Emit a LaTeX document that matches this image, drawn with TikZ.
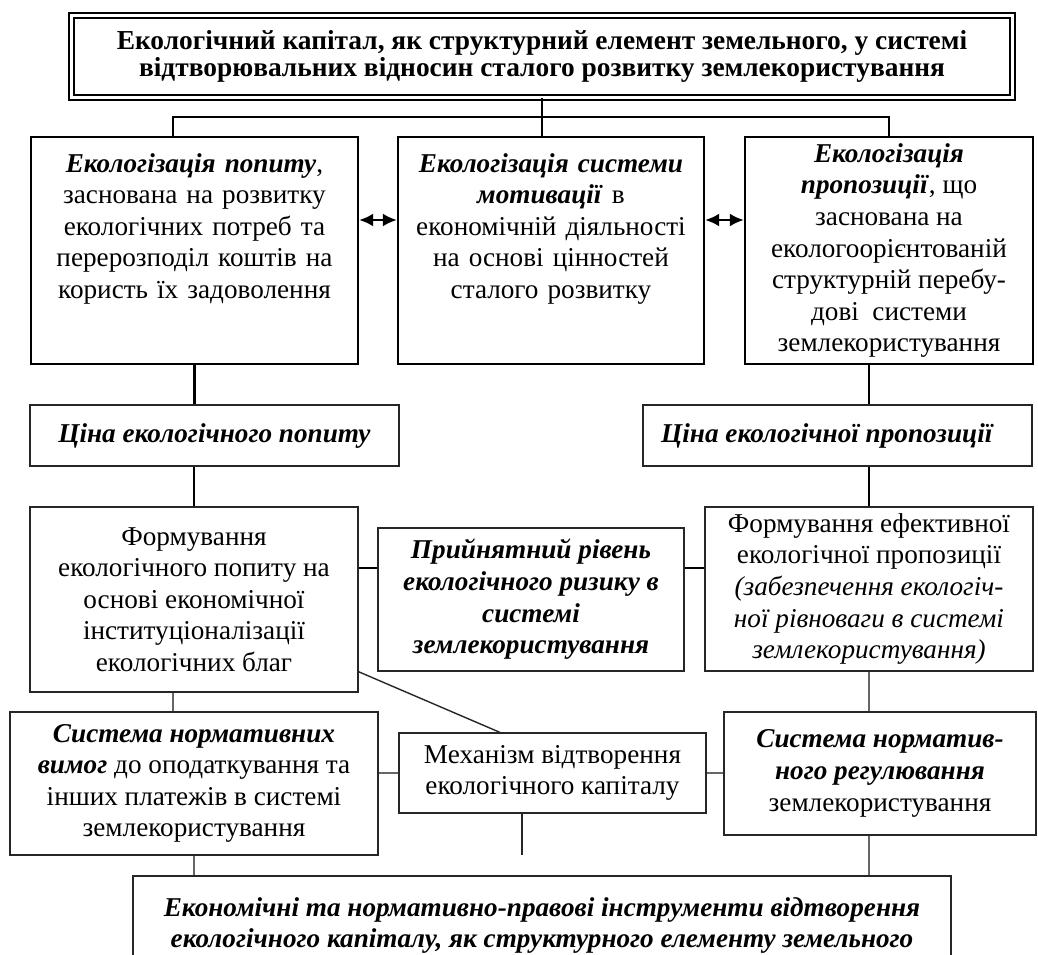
\documentclass[tikz,border=0pt]{standalone}
\usepackage{fontspec}
\setmainfont{Liberation Serif}
\usetikzlibrary{calc,arrows.meta}

\newcommand{\bitx}[1]{\textbf{\textit{#1}}}

\begin{document}
\begin{tikzpicture}[x=0.5pt,y=-0.5pt, >={Latex[length=7pt,width=6.5pt]},
    bigbox/.style={rectangle, draw, line width=1.2pt, align=center, inner sep=2pt,
      font=\fontsize{13.6}{15.8}\selectfont},
    box/.style={rectangle, draw=black!85, line width=0.8pt, align=center, inner sep=2pt,
      font=\fontsize{13.6}{15.8}\selectfont},
    thinbox/.style={box, line width=0.6pt},
    toptext/.style={text height=11pt, text depth=89.5pt, inner ysep=6.5pt},
    thick line/.style={line width=1.1pt},
    thin line/.style={draw=black!60, line width=0.7pt}]
  \useasboundingbox (0,0) rectangle (1038,954);
  % header
  \node[draw, line width=0.8pt, double, double distance=1.8pt, minimum width=470.5pt,
    minimum height=41pt, align=center, font=\bfseries\fontsize{13.7}{13.7}\selectfont]
    (hdr) at (542,56.5) {Екологічний капітал, як структурний елемент земельного, у системі\\
    відтворювальних відносин сталого розвитку землекористування};
  % three boxes
  \node[bigbox, toptext, text width=157pt, minimum width=163.5pt] (A) at (194.5,250.5)
    {\bitx{Екологізація попиту},\\ заснована на розвитку\\ екологічних потреб та\\
     перерозподіл коштів на\\ користь їх задоволення};
  \node[bigbox, toptext, text width=147pt, minimum width=153pt] (B) at (551,250.5)
    {\bitx{Екологізація системи}\\ \bitx{мотивації} в\\ економічній діяльності\\
     на основі цінностей\\ сталого розвитку};
  \node[bigbox, minimum width=144pt, minimum height=113.5pt] (C) at (889,250.5)
    {\bitx{Екологізація}\\ \bitx{пропозиції}, що\\ заснована на\\ екологоорієнтованій\\
     структурній перебу-\\ дові\ \ системи\\ землекористування};
  % prices
  \node[box, minimum width=184.5pt, minimum height=30.5pt] (D1) at (214.5,435.5)
    {\bitx{Ціна екологічного попиту}};
  \node[box, minimum width=194.5pt, minimum height=30.5pt] (D2) at (837.5,435.5)
    {\bitx{Ціна екологічної пропозиції}\hspace*{10pt}};
  % middle row
  \node[box, minimum width=164pt, minimum height=92.5pt] (E1) at (194,599.5)
    {Формування\\ екологічного попиту на\\ основі економічної\\ інституціоналізації\\
     екологічних благ};
  \node[box, minimum width=153pt, minimum height=71.5pt] (F) at (531,599.5)
    {\bitx{Прийнятний рівень}\\ \bitx{екологічного ризику в}\\ \bitx{системі}\\
     \bitx{землекористування}};
  \node[box, minimum width=164pt, minimum height=82pt] (G) at (869,589)
    {Формування ефективної\\ екологічної пропозиції\\ \textit{(забезпечення екологіч-}\\
     \textit{ної рівноваги в системі}\\ \textit{землекористування)}};
  % lower row
  \node[thinbox, minimum width=184pt, minimum height=71.5pt] (H) at (194,783.5)
    {\bitx{Система нормативних}\\ \bitx{вимог} до оподаткування та\\
     інших платежів в системі\\ землекористування};
  \node[thinbox, minimum width=153.5pt, minimum height=40pt] (M) at (552.5,773)
    {Механізм відтворення\\ екологічного капіталу};
  \node[thinbox, minimum width=156pt, minimum height=61.5pt] (K) at (880,773.5)
    {\bitx{Система норматив-}\\ \bitx{ного регулювання}\\ землекористування};
  \node[thinbox, minimum width=409pt, minimum height=49.5pt] (L) at (542,925.5)
    {\bitx{Економічні та нормативно-правові інструменти відтворення}\\
     \bitx{екологічного капіталу, як структурного елементу земельного}};
  % connectors
  \coordinate (bus) at (542,117);
  \draw[thick line] (hdr.south) -- (hdr.south |- B.north);
  \draw[thick line] ([xshift=-10.75pt]A.north) |- (bus) -| (C.north);
  \draw[thick line,<->] ([yshift=15.25pt]A.east) -- ([yshift=15.25pt]B.west);
  \draw[thick line,<->] ([yshift=15.25pt]B.east) -- ([yshift=15.25pt]C.west);
  \draw[thick line] (A.south) -- (A.south |- D1.north);
  \draw[thick line] (E1.north |- D1.south) -- (E1.north);
  \draw[thick line] (G.north |- C.south) -- (G.north |- D2.north);
  \draw[thick line] (G.north |- D2.south) -- (G.north);
  \draw[thick line] ([yshift=15.75pt]E1.east) -- ([yshift=15.75pt]E1.east -| F.west);
  \draw[thick line] ([yshift=15.75pt]E1.east -| F.east) -- ([yshift=15.75pt]E1.east -| G.west);
  \draw[thin line] ([xshift=-10.5pt]E1.south) -- ([xshift=-10.5pt]E1.south |- H.north);
  \draw[thin line, draw=black!85] ([yshift=10.5pt]E1.south east) -- ([xshift=-26.25pt]M.north);
  \draw[thin line] (H.east |- M.west) -- (M.west);
  \draw[thin line] (M.east) -- (M.east -| K.west);
  \draw[thin line] (G.south) -- (G.south |- K.north);
  \coordinate (mfoot) at (522,855);
  \draw[thin line, draw=black!85] (M.south -| mfoot) -- (mfoot);
  \draw[thin line] (H.south) -- (H.south |- L.north);
  \draw[thin line] (G.south |- K.south) -- (G.south |- L.north);
\end{tikzpicture}
\end{document}
